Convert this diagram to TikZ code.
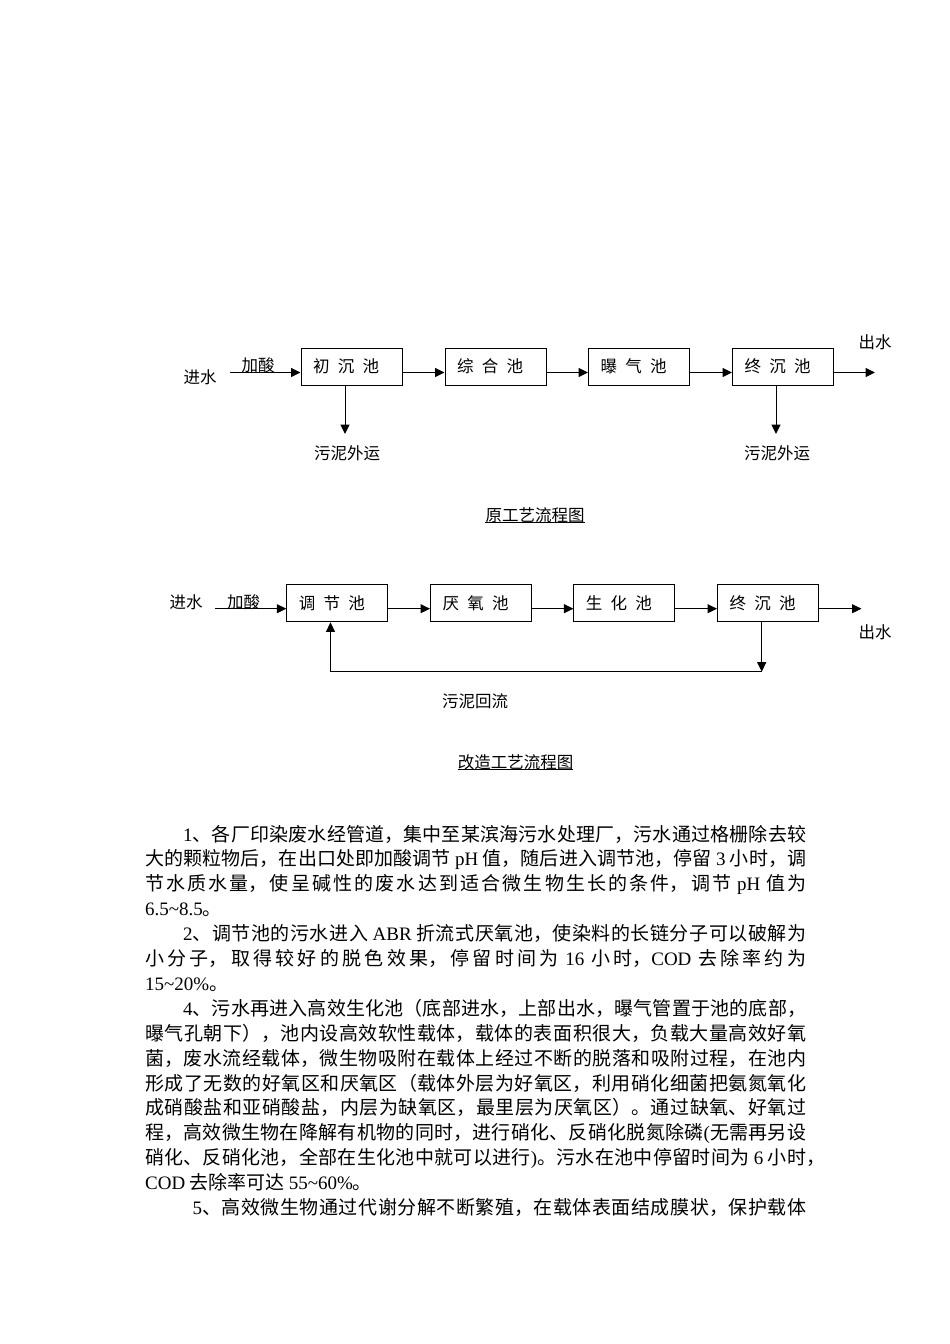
\documentclass[tikz,border=0pt]{standalone}
\usepackage{fontspec}
\setmainfont{Noto Sans CJK SC}
\newfontfamily\lat{Liberation Serif}
\usetikzlibrary{calc}
\usetikzlibrary{arrows.meta}
\XeTeXlinebreaklocale "zh"
\XeTeXlinebreakskip=0pt plus 3pt

\begin{document}
\begin{tikzpicture}[x=1pt,y=-1pt,
    bac/.style={draw,line width=1pt,minimum height=37pt,inner xsep=12pt,inner ysep=0pt,text width=77pt,align=left,font=\fontsize{16.5}{18}\selectfont},
    fleche/.style={line width=1pt,-{Triangle[length=9.5pt,width=9pt]}},
    etiq/.style={inner sep=0pt,font=\fontsize{16.5}{18}\selectfont}]

\fill[white] (0,0) rectangle (950,1344);
\useasboundingbox (0,0) rectangle (950,1344);

%%%%%%%%%%%%%%%%%%%%%%%%
%Début schéma 1 (procédé d'origine)
%%%%%%%%%%%%%%%%%%%%%%%%

    %ordonnée de la ligne de flux
    \def \FluxA {372.5}

\node[bac] (ini) at (351.5,366.5) {初\enspace 沉\enspace 池};
\node[bac] (syn) at (495.5,366.5) {综\enspace 合\enspace 池};
\node[bac] (aer) at (639,366.5) {曝\enspace 气\enspace 池};
\node[bac] (fin) at (783,366.5) {终\enspace 沉\enspace 池};

\node[etiq] (eau1) at (200,377) {进水};
\node[etiq] (acide1) at (258,365) {加酸};
\node[etiq] (sortie1) at (875,342) {出水};

\coordinate (e1) at (230,\FluxA);
\coordinate (s1) at (875,\FluxA);
\draw[fleche] (e1) -- (e1 -| ini.west);
\draw[fleche] (ini.east |- e1) -- (syn.west |- e1);
\draw[fleche] (syn.east |- e1) -- (aer.west |- e1);
\draw[fleche] (aer.east |- e1) -- (fin.west |- e1);
\draw[fleche] (fin.east |- e1) -- (s1);

% évacuation des boues
\coordinate (d1) at (345,434);
\coordinate (d2) at (776,434);
\draw[fleche] (ini.south -| d1) -- (d1);
\draw[fleche] (fin.south -| d2) -- (d2);
\node[etiq] (boue1) at (347,453) {污泥外运};
\node[etiq] (boue2) at (777,453) {污泥外运};

\node[etiq] (titre1) at (535,515) {原工艺流程图};
\draw[line width=0.9pt] (titre1.south west) -- (titre1.south east);

%%%%%%%%%%%%%%%%%%%%%%%%
%Début schéma 2 (procédé modifié)
%%%%%%%%%%%%%%%%%%%%%%%%

    \def \FluxB {608.7}

\node[bac,minimum height=37.7pt] (reg) at (337.3,603) {调\enspace 节\enspace 池};
\node[bac,minimum height=37.7pt] (ana) at (481,603) {厌\enspace 氧\enspace 池};
\node[bac,minimum height=37.7pt] (bio) at (624.4,603) {生\enspace 化\enspace 池};
\node[bac,minimum height=37.7pt] (dec) at (768,603) {终\enspace 沉\enspace 池};

\node[etiq] (eau2) at (186,602) {进水};
\node[etiq] (acide2) at (243.5,602) {加酸};
\node[etiq] (sortie2) at (875,632) {出水};

\coordinate (e2) at (215,\FluxB);
\coordinate (s2) at (861.5,\FluxB);
\draw[fleche] (e2) -- (e2 -| reg.west);
\draw[fleche] (reg.east |- e2) -- (ana.west |- e2);
\draw[fleche] (ana.east |- e2) -- (bio.west |- e2);
\draw[fleche] (bio.east |- e2) -- (dec.west |- e2);
\draw[fleche] (dec.east |- e2) -- (s2);

% retour des boues
\coordinate (r1) at (761.7,671.7);
\coordinate (r2) at (330.5,671.7);
\draw[fleche] (dec.south -| r1) -- (r1);
\draw[fleche] (r1) -- (r2) -- (reg.south -| r2);
\node[etiq] (retour) at (475,701) {污泥回流};

\node[etiq] (titre2) at (515.5,762) {改造工艺流程图};
\draw[line width=0.9pt] (titre2.south west) -- (titre2.south east);

%%%%%%%%%%%%%%%%%%%%%%%%
%Texte
%%%%%%%%%%%%%%%%%%%%%%%%

\node[anchor=base west,inner sep=0pt] (texte) at (145,841) {\parbox[t]{661pt}{%
\fontsize{19}{24.9}\selectfont\parindent=38pt
{\lat 1}、各厂印染废水经管道，集中至某滨海污水处理厂，污水通过格栅除去较\linebreak
大的颗粒物后，在出口处即加酸调节 {\lat pH} 值，随后进入调节池，停留 {\lat 3} 小时，调\linebreak
节水质水量，使呈碱性的废水达到适合微生物生长的条件，调节 {\lat pH} 值为\linebreak
{\lat 6.5\textasciitilde 8.5}。\par
{\lat 2}、调节池的污水进入 {\lat ABR} 折流式厌氧池，使染料的长链分子可以破解为\linebreak
小分子，取得较好的脱色效果，停留时间为 {\lat 16} 小时，{\lat COD} 去除率约为\linebreak
{\lat 15\textasciitilde 20\%}。\par
{\lat 4}、污水再进入高效生化池（底部进水，上部出水，曝气管置于池的底部，\linebreak
曝气孔朝下），池内设高效软性载体，载体的表面积很大，负载大量高效好氧\linebreak
菌，废水流经载体，微生物吸附在载体上经过不断的脱落和吸附过程，在池内\linebreak
形成了无数的好氧区和厌氧区（载体外层为好氧区，利用硝化细菌把氨氮氧化\linebreak
成硝酸盐和亚硝酸盐，内层为缺氧区，最里层为厌氧区）。通过缺氧、好氧过\linebreak
程，高效微生物在降解有机物的同时，进行硝化、反硝化脱氮除磷{\lat (}无需再另设\linebreak
硝化、反硝化池，全部在生化池中就可以进行{\lat )}。污水在池中停留时间为 {\lat 6} 小时\rlap{，}\linebreak
{\lat COD} 去除率可达 {\lat 55\textasciitilde 60\%}。\par
\parfillskip=0pt
\hspace*{9.5pt}{\lat 5}、高效微生物通过代谢分解不断繁殖，在载体表面结成膜状，保护载体\par}};

\end{tikzpicture}
\end{document}
